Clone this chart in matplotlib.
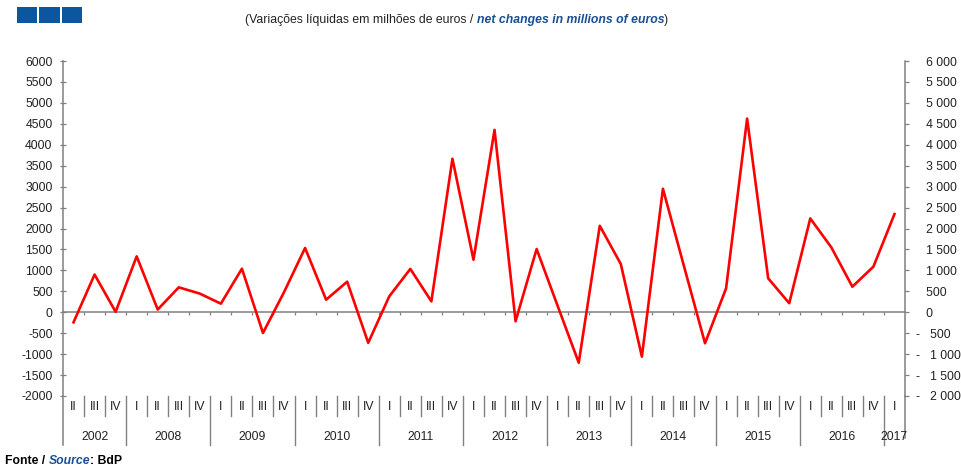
import matplotlib
matplotlib.use('Agg')
import matplotlib.pyplot as plt
from matplotlib.patches import Rectangle
from matplotlib.lines import Line2D
from matplotlib.transforms import IdentityTransform, blended_transform_factory
import numpy as np

plt.rcParams['font.family'] = ['Liberation Sans', 'DejaVu Sans']

# ---------------- data ----------------
years = ['2002', '2008', '2009', '2010', '2011', '2012', '2013', '2014', '2015', '2016', '2017']
quarters = ['II', 'III', 'IV'] + ['I', 'II', 'III', 'IV'] * 9 + ['I']
values = [-240, 900, 10, 1335, 65, 595, 445, 205, 1040, -495,
          480, 1535, 300, 730, -730, 380, 1035, 260, 3665, 1255,
          4355, -215, 1510, 150, -1205, 2065, 1150, -1060, 2950, 1100,
          -740, 570, 4625, 810, 215, 2240, 1550, 610, 1090, 2345]
yticks = list(range(-2000, 6001, 500))

title_pt = '(Variações líquidas em milhões de euros / '
title_en = 'net changes in millions of euros'
source_pt = 'Fonte / '
source_en = 'Source'
source_rest = ': BdP'

# ---------------- style ----------------
W, H = 962, 470
GRAY = '#808080'
TXT = '#222222'
BLUE = '#0a57a0'
DBLUE = '#1a4f96'
FS = 8.8

fig = plt.figure(figsize=(W / 100, H / 100), dpi=100)
L, R, T, B = 63, 905, 61, 396
ax = fig.add_axes([L / W, 1 - B / H, (R - L) / W, (B - T) / H])

x = np.arange(len(values))
ax.plot(x, values, color='#ff0000', lw=1.9, zorder=5)
ax.set_xlim(-0.5, len(values) - 0.5)
ax.set_ylim(-2000, 6000)

ax.spines['top'].set_visible(False)
ax.spines['bottom'].set_position(('data', 0))
for s in ['bottom', 'left', 'right']:
    ax.spines[s].set_color(GRAY)
    ax.spines[s].set_linewidth(1.1)

ax.set_xticks(np.arange(0.5, len(values) - 1, 1))
ax.tick_params(axis='x', direction='out', length=2.5, width=0.9, color=GRAY, labelbottom=False)
ax.set_yticks(yticks)
ax.set_yticklabels([str(v) for v in yticks])
ax.tick_params(axis='y', direction='inout', length=5, width=0.9, color=GRAY,
               labelsize=FS, labelcolor=TXT, pad=5)

ax2 = ax.twinx()
ax2.set_ylim(ax.get_ylim())
for s in ax2.spines.values():
    s.set_visible(False)
def rfmt(v):
    s = f"{abs(v):,}".replace(',', ' ')
    return ('-   ' + s) if v < 0 else ('   ' + s)
ax2.set_yticks(yticks)
ax2.set_yticklabels([rfmt(v) for v in yticks])
ax2.tick_params(axis='y', direction='out', length=3, width=0.9, color=GRAY,
                labelsize=FS, labelcolor=TXT, pad=5)

# ---------------- category axis below ----------------
def fy(py):
    return 1 - py / H

trans = blended_transform_factory(ax.transData, fig.transFigure)
n = len(values)
for i in range(1, n):
    b = i - 0.5
    y1 = 445 if quarters[i] == 'I' else 416
    fig.add_artist(Line2D([b, b], [fy(B), fy(y1)], transform=trans, color=GRAY, lw=1.0))
fig.add_artist(Line2D([-0.5, -0.5], [fy(B), fy(445)], transform=trans, color=GRAY, lw=1.1))
fig.add_artist(Line2D([n - 0.5, n - 0.5], [fy(B), fy(438)], transform=trans, color=GRAY, lw=1.1))

for i, q in enumerate(quarters):
    fig.text(i, fy(407), q, transform=trans, ha='center', va='center', fontsize=FS, color=TXT)

groups = []
start = 0
for i in range(1, n + 1):
    if i == n or quarters[i] == 'I':
        groups.append((start, i - 1))
        start = i
for yr, (a, b) in zip(years, groups):
    fig.text((a + b) / 2, fy(437), yr, transform=trans, ha='center', va='center',
             fontsize=FS, color=TXT)

# ---------------- header / footer ----------------
for k in range(3):
    fig.add_artist(Rectangle(((17 + k * 22.3) / W, fy(23)), 20.3 / W, 16 / H,
                             transform=fig.transFigure, color=BLUE, lw=0))

renderer = fig.canvas.get_renderer()

def mixed(parts, px, py):
    xpos = px
    for txt, kw in parts:
        t = fig.text(xpos, H - py, txt, transform=IdentityTransform(), va='center',
                     ha='left', fontsize=FS, **kw)
        xpos = t.get_window_extent(renderer).x1

mixed([(title_pt, dict(color=TXT)),
       (title_en, dict(color=DBLUE, weight='bold', style='italic')),
       (')', dict(color=TXT))], 245, 20)

mixed([(source_pt, dict(color='black', weight='bold')),
       (source_en, dict(color=DBLUE, weight='bold', style='italic')),
       (source_rest, dict(color='black', weight='bold'))], 5, 461)

fig.savefig('out.png', dpi=100)
